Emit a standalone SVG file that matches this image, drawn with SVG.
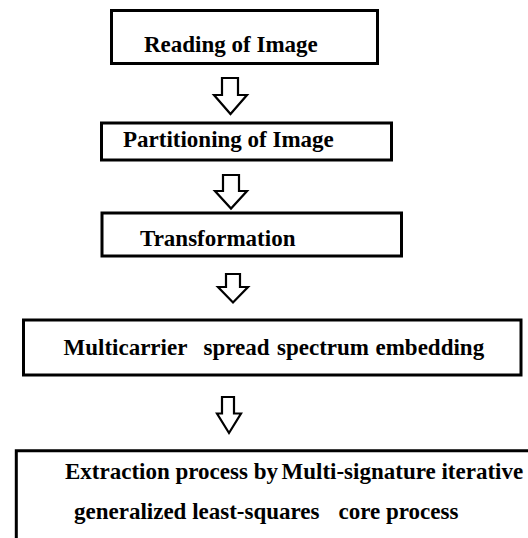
<svg xmlns="http://www.w3.org/2000/svg" width="528" height="538" viewBox="0 0 528 538">
<style>
.box{fill:#fff;stroke:#000;stroke-width:3}
.arr{fill:#fff;stroke:#000;stroke-width:2.2}
</style>
<rect width="528" height="538" fill="#fff"/>
<g id="connectors">
<polygon class="arr" points="222,78 238,78 238,95 247,95 230.5,114 214,95 222,95"/>
<polygon class="arr" points="223,175 239,175 239,191 247,191 231,208.5 215,191 223,191"/>
<polygon class="arr" points="226,274 240,274 240,287 248,287 233,302.5 218,287 226,287"/>
<polygon class="arr" points="222,397 234,397 234,413.5 241,413.5 229,433 217,413.5 222,413.5"/>
</g>
<g id="n1">
<rect class="box" x="111.5" y="10.5" width="266" height="53"/>
<text font-family="Liberation Serif" font-weight="bold" font-size="23" x="144" y="52">Reading of Image</text>
</g>
<g id="n2">
<rect class="box" x="101.5" y="123" width="290" height="37"/>
<text font-family="Liberation Serif" font-weight="bold" font-size="23" x="123" y="147">Partitioning of Image</text>
</g>
<g id="n3">
<rect class="box" x="102" y="213" width="299.5" height="43"/>
<text font-family="Liberation Serif" font-weight="bold" font-size="23" x="140" y="246">Transformation</text>
</g>
<g id="n4">
<rect class="box" x="23.5" y="320" width="497.5" height="55"/>
<text font-family="Liberation Serif" font-weight="bold" font-size="23" y="354.5"><tspan x="63.5">Multicarrier</tspan><tspan x="203.5">spread</tspan><tspan x="277">spectrum</tspan><tspan x="375.5">embedding</tspan></text>
</g>
<g id="n5">
<path class="box" d="M16.3,540 V450.8 H530"/>
<text font-family="Liberation Serif" font-weight="bold" font-size="23" y="479"><tspan x="65">Extraction process by</tspan><tspan x="281.5">Multi-signature iterative</tspan></text>
<text font-family="Liberation Serif" font-weight="bold" font-size="23" y="518.5"><tspan x="74">generalized least-squares</tspan><tspan x="338.5">core process</tspan></text>
</g>
</svg>
